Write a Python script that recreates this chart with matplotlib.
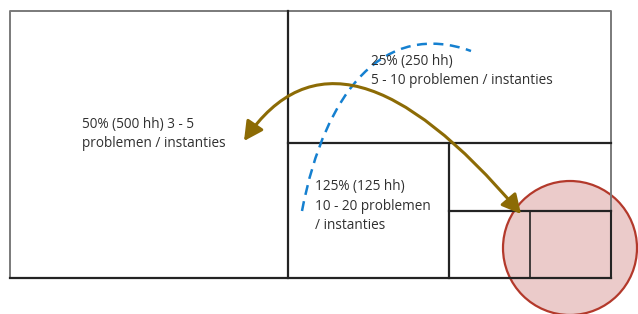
import matplotlib
matplotlib.use("Agg")
import matplotlib.pyplot as plt
from matplotlib.path import Path
from matplotlib.patches import FancyArrowPatch, PathPatch, Circle

plt.rcParams['font.family'] = ['Open Sans', 'DejaVu Sans']

# Layout of the nested boxes (pixel-like canvas units)
outer_box = [10, 11, 611, 278]          # x0, y0, x1, y1
split_x_main = 288                       # left block | right blocks
split_y_right = 143                      # top-right | bottom-right
split_x_lower = 449
split_y_lower = 211
split_x_small = 530

labels = [
    "50% (500 hh) 3 - 5\nproblemen / instanties",
    "25% (250 hh)\n5 - 10 problemen / instanties",
    "125% (125 hh)\n10 - 20 problemen\n/ instanties",
]
label_pos = [(82, 134), (371, 71), (315, 206)]

brown_curve = [(244, 141), (340, 0), (521, 214)]
blue_curve = [(302, 211), (325, 90), (385, 20), (471, 51)]
circle_center = (570, 248)
circle_radius = 67

fig = plt.figure(figsize=(6.38, 3.14), dpi=100)
ax = fig.add_axes([0, 0, 1, 1])
ax.set_xlim(0, 638)
ax.set_ylim(314, 0)
ax.axis('off')

dark = '#232323'
grey = '#7a7a7a'
x0, y0, x1, y1 = outer_box
# outer border (grey on left/top/right, dark bottom)
ax.plot([x0, x0, x1, x1], [y1, y0, y0, split_y_lower], color=grey, lw=1.4, zorder=3, solid_capstyle='projecting')
ax.plot([x0, x1], [y1, y1], color=dark, lw=1.6, zorder=3)
ax.plot([x1, x1], [split_y_lower, y1], color=dark, lw=1.5, zorder=3)
# inner dividers
ax.plot([split_x_main, split_x_main], [y0, y1], color=dark, lw=1.6, zorder=3)
ax.plot([split_x_main, x1], [split_y_right, split_y_right], color=dark, lw=1.6, zorder=3)
ax.plot([split_x_lower, split_x_lower], [split_y_right, y1], color=dark, lw=1.6, zorder=3)
ax.plot([split_x_lower, x1], [split_y_lower, split_y_lower], color=dark, lw=1.6, zorder=3)
ax.plot([split_x_small, split_x_small], [split_y_lower, y1], color=dark, lw=1.2, zorder=3)

# highlight circle
ax.add_patch(Circle(circle_center, circle_radius, facecolor='#ebcbca', edgecolor='#b3392b',
                    lw=1.6, zorder=2))

# blue dashed curve
bp = Path(blue_curve, [Path.MOVETO, Path.CURVE4, Path.CURVE4, Path.CURVE4])
ax.add_patch(PathPatch(bp, fill=False, edgecolor='#1580d0', lw=1.8,
                       linestyle=(0, (4, 2.6)), zorder=4))

# brown double arrow
ap = Path(brown_curve, [Path.MOVETO, Path.CURVE3, Path.CURVE3])
ax.add_patch(FancyArrowPatch(path=ap, arrowstyle='<|-|>,head_length=1.15,head_width=0.6',
                             mutation_scale=10, color='#8c6b05', lw=2.2, zorder=5))

for txt, (tx, ty) in zip(labels, label_pos):
    ax.text(tx, ty, txt, fontsize=9.8, color='#303030', ha='left', va='center',
            linespacing=1.45, zorder=6)

fig.savefig('out.png', dpi=100)
